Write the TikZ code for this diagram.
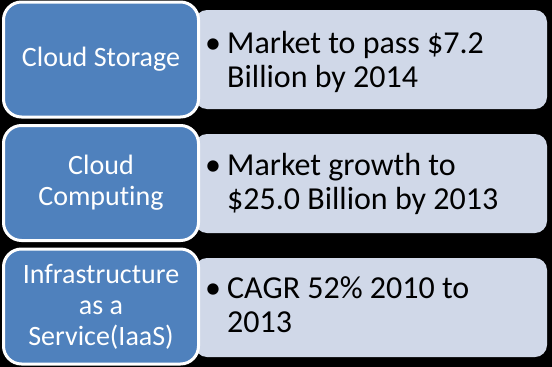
\documentclass[tikz,border=0pt]{standalone}
\usepackage{fontspec}
\setmainfont{Carlito}[Ligatures=NoCommon]
\definecolor{cloudblue}{HTML}{4F81BD}
\definecolor{notegray}{HTML}{D0D8E8}
\tikzset{
  topic/.style={draw=white, line width=3pt, fill=cloudblue, rounded corners=18pt,
    minimum width=195pt, minimum height=115pt, text=white, align=center,
    font=\fontsize{28}{31}\selectfont},
  fact/.style={fill=notegray, rounded corners=12pt, minimum width=352pt, minimum height=99pt},
  point/.style={anchor=base west, inner sep=0pt, font=\fontsize{32}{34.5}\selectfont},
}
\newcommand{\bulletline}[1]{\makebox[22pt][l]{•}\parbox[t]{320pt}{#1}}
\begin{document}
\begin{tikzpicture}[x=1pt,y=-1pt]
        \fill[black] (0,0) rectangle (552,367);
        \useasboundingbox (0,0) rectangle (552,367);
        \node[fact] (f1) at (371,59.5) {};
        \node[fact] (f2) at (371,183.5) {};
        \node[fact] (f3) at (371,307.5) {};
        \node[topic] (c1) at (101,59.5) {Cloud Storage};
        \node[topic] (c2) at (101,183) {Cloud\\Computing};
        \node[topic] (c3) at (101,306.5) {Infrastructure\\as a\\Service(IaaS)};
        \node[point] (p1) at (205,53) {\bulletline{Market to pass \$7.2\\Billion by 2014}};
        \node[point] (p2) at (205,175) {\bulletline{Market growth to\\\$25.0 Billion by 2013}};
        \node[point] (p3) at (205,298) {\bulletline{CAGR 52\% 2010 to\\2013}};
    \end{tikzpicture}
\end{document}
